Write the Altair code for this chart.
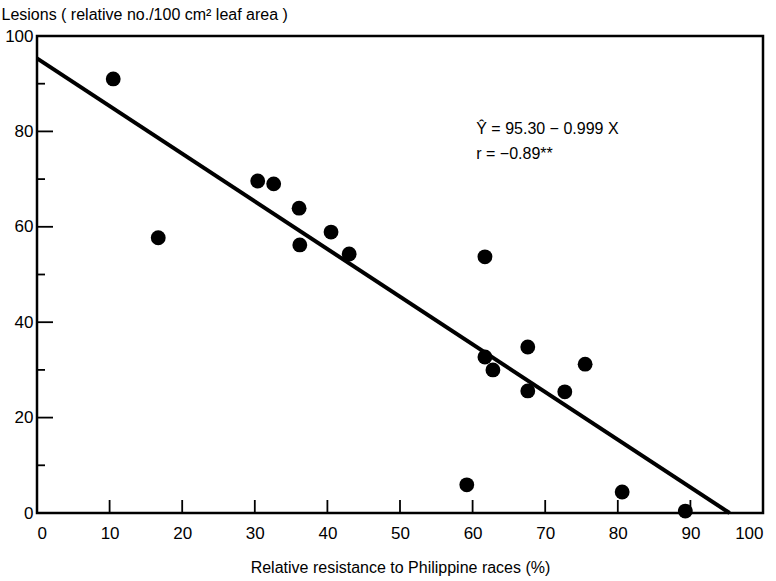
import altair as alt
import pandas as pd

resistance = [10.5, 16.7, 30.4, 32.6, 36.1, 36.2, 40.5, 43.0, 61.7, 61.7, 62.8, 67.6, 67.6, 72.7, 75.5, 59.2, 80.6, 89.3]
lesions = [91.0, 57.7, 69.6, 69.0, 63.9, 56.2, 58.9, 54.3, 53.7, 32.7, 30.0, 34.8, 25.6, 25.4, 31.2, 5.9, 4.4, 0.4]

fit_x = [0, 95.4]
fit_y = [95.30 - 0.999 * v for v in fit_x]

x_ticks = [0, 10, 20, 30, 40, 50, 60, 70, 80, 90, 100]
y_major = [0, 20, 40, 60, 80, 100]
y_minor = [10, 30, 50, 70, 90]

eq_lines = ["Ŷ = 95.30 − 0.999 X", "r = −0.89**"]
eq_x = [60.5, 60.5]
eq_y = [80.5, 75.2]

FONT = "Liberation Sans"
W, H = 726, 477

pts = pd.DataFrame({"x": resistance, "y": lesions})
fit = pd.DataFrame({"x": fit_x, "y": fit_y})
eq = pd.DataFrame({"t": eq_lines, "x": eq_x, "y": eq_y})

xs = alt.Scale(domain=[0, 100], nice=False, zero=False)
ys = alt.Scale(domain=[0, 100], nice=False, zero=False)

xaxis = alt.Axis(values=x_ticks, ticks=False, domain=False, grid=False, labelPadding=12,
                 labelFontSize=17, labelFont=FONT, labelColor="black",
                 title="Relative resistance to Philippine races (%)", titleFont=FONT,
                 titleFontSize=16, titleFontWeight="normal", titlePadding=18, titleColor="black")
yaxis = alt.Axis(values=y_major, ticks=False, domain=False, grid=False, labelPadding=4,
                 labelFontSize=17, labelFont=FONT, labelColor="black",
                 title="Lesions ( relative no./100 cm² leaf area )", titleAngle=0,
                 titleAlign="left", titleBaseline="bottom", titleX=-36, titleY=-14,
                 titleFont=FONT, titleFontSize=16, titleFontWeight="normal", titleColor="black")

points = alt.Chart(pts).mark_circle(size=220, color="black", opacity=1).encode(
    x=alt.X("x:Q", scale=xs, axis=xaxis),
    y=alt.Y("y:Q", scale=ys, axis=yaxis),
)

line = alt.Chart(fit).mark_line(color="black", strokeWidth=4).encode(
    x=alt.X("x:Q", scale=xs), y=alt.Y("y:Q", scale=ys)
)

xt = alt.Chart(pd.DataFrame({"x": x_ticks})).mark_rule(color="black", strokeWidth=1.8).encode(
    x=alt.X("x:Q", scale=xs), y=alt.value(H), y2=alt.value(H - 13)
)
ytM = alt.Chart(pd.DataFrame({"y": y_major})).mark_rule(color="black", strokeWidth=1.8).encode(
    y=alt.Y("y:Q", scale=ys), x=alt.value(0), x2=alt.value(16)
)
ytm = alt.Chart(pd.DataFrame({"y": y_minor})).mark_rule(color="black", strokeWidth=1.8).encode(
    y=alt.Y("y:Q", scale=ys), x=alt.value(0), x2=alt.value(8)
)

txt = alt.Chart(eq).mark_text(align="left", baseline="middle", fontSize=16, font=FONT, color="black").encode(
    x=alt.X("x:Q", scale=xs), y=alt.Y("y:Q", scale=ys), text="t:N"
)

chart = alt.layer(points, line, xt, ytM, ytm, txt).properties(
    width=W, height=H,
    background="white",
    autosize=alt.AutoSizeParams(type="none"),
    padding={"left": 37, "top": 36, "right": 13, "bottom": 68},
).configure_view(stroke="black", strokeWidth=2.5, strokeOpacity=1)

chart.save("out.html", embed_options={"renderer": "svg", "actions": False})
